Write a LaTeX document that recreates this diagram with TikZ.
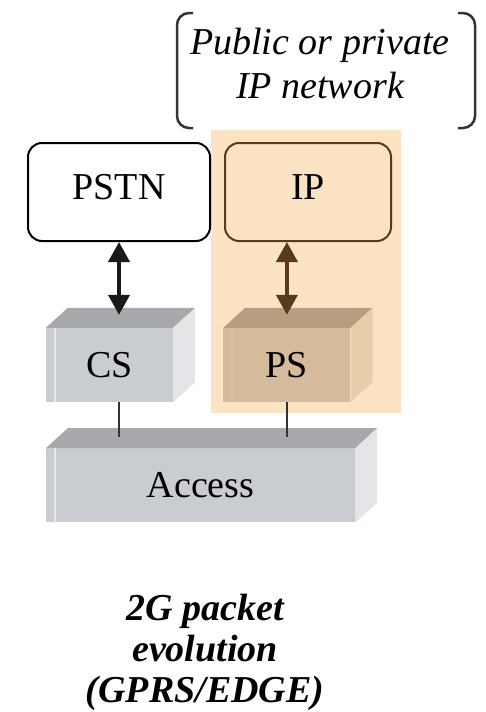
\documentclass[tikz,border=0pt]{standalone}
\usepackage{fontspec}
\setmainfont{Liberation Serif}
\usetikzlibrary{arrows.meta, positioning}

\definecolor{psarea}{HTML}{FBE3C4}
\definecolor{ipbrown}{HTML}{5A3A1A}
\definecolor{csfront}{HTML}{C9CCD0}
\definecolor{cstop}{HTML}{A7A9AC}
\definecolor{csside}{HTML}{E3E5E7}
\definecolor{csline}{HTML}{E6E8EA}
\definecolor{psfront}{HTML}{D5BA9B}
\definecolor{pstop}{HTML}{B89E80}
\definecolor{psside}{HTML}{E8CDAA}
\definecolor{psline}{HTML}{DCC3A6}

\begin{document}
\begin{tikzpicture}[
    x=1pt, y=-1pt,
    font=\fontsize{38}{44}\selectfont,
    cloud/.style={rectangle, draw=#1, line width=2pt, rounded corners=14pt, minimum width=182pt, minimum height=98pt, text depth=10pt},
    block/.style={rectangle, inner sep=0pt, minimum width=127pt, minimum height=74pt, fill=#1front},
    link/.style={{Triangle[width=21pt,length=20pt]}-{Triangle[width=21pt,length=20pt]}, line width=4pt},
    wire/.style={line width=2pt, draw=black!80},
    bracket/.style={line width=2.5pt, draw=black!80, rounded corners=12pt}
]
    \useasboundingbox (0,0) rectangle (486,712);
    \fill[psarea] (211,130) rectangle (401,413);

    % label and brackets
    \node[align=center, inner sep=0pt, font=\fontsize{38}{44}\selectfont\itshape] (network) at (320,64) {Public or private\\IP network};
    \draw[bracket] (193,13) -- (177,13) -- (177,128) -- (193,128);
    \draw[bracket] (458,13) -- (475,13) -- (475,128) -- (458,128);

    % networks
    \node[cloud=black, fill=white] (pstn) at (119,192) {PSTN};
    \node[cloud=ipbrown, right=13pt of pstn, minimum width=166pt] (ip) {IP};

    % core and access
    \node[block=cs] (cs) at (109.5,365) {CS};
    \node[block=ps, right=50pt of cs] (ps) {PS};
    \node[block=cs, minimum width=309pt, below right=46pt and 0pt of cs.south west] (access) {Access};

    \foreach \n/\k in {cs/cs, ps/ps, access/cs} {
        \fill[fill=\k top] (\n.north west) -- ++(22,-20) -- ([shift={(22,-20)}]\n.north east) -- (\n.north east) -- cycle;
        \fill[fill=\k side] (\n.north east) -- ++(22,-20) -- ([shift={(22,-20)}]\n.south east) -- (\n.south east) -- cycle;
        \draw[draw=\k line, line width=2pt] ([xshift=9pt]\n.north west) -- ([xshift=9pt]\n.south west);
    }

    \draw[link, black!90] (pstn.south) -- ([yshift=13pt]pstn.south |- cs.north);
    \draw[link, ipbrown] (ps.north |- ip.south) -- ([yshift=13pt]ps.north);
    \draw[wire] (pstn.south |- cs.south) -- ([yshift=11pt]pstn.south |- access.north);
    \draw[wire] (ps.south) -- ([yshift=11pt]ps.south |- access.north);

    \node[align=center, inner sep=0pt, font=\fontsize{38}{41}\selectfont\bfseries\itshape] (caption) at (205,652) {2G packet\\evolution\\(GPRS/EDGE)};
\end{tikzpicture}
\end{document}
